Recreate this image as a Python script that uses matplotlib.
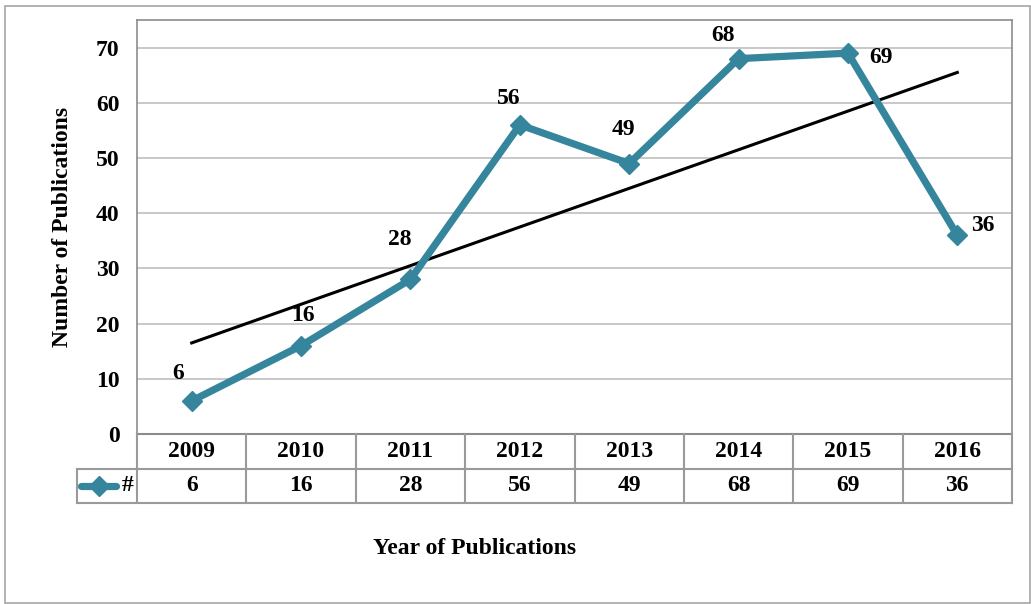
import matplotlib
matplotlib.use("Agg")
import matplotlib.pyplot as plt
import numpy as np
from matplotlib.patches import Rectangle

years = ["2009", "2010", "2011", "2012", "2013", "2014", "2015", "2016"]
counts = [6, 16, 28, 56, 49, 68, 69, 36]
series_name = "#"
y_ticks = [0, 10, 20, 30, 40, 50, 60, 70]

# label offsets in points (dx, dy)
label_offsets = [(-10, 20), (1, 22), (-8, 29), (-8, 19), (-4, 24.5), (-11, 17), (24, -3.5), (18, 7)]

plt.rcParams['font.family'] = ['Liberation Serif', 'DejaVu Serif']
plt.rcParams['font.weight'] = 'bold'

W, H = 1031, 604
fig = plt.figure(figsize=(W / 100, H / 100), dpi=100)

def fx(px):
    return px / W

def fy(py):
    return 1 - py / H

line_color = '#35869D'
grid_color = '#BFBFBF'
frame_color = '#8C8C8C'
fs = 17
lw_series = 5.2
msize = 10.5

# outer border
fig.add_artist(Rectangle((fx(5), fy(603)), fx(1030) - fx(5), fy(6) - fy(603),
                         transform=fig.transFigure, fill=False, edgecolor='#A6A6A6', lw=1.2))

L, R, T, B = 137, 1012, 20, 434
ax = fig.add_axes([fx(L), fy(B), fx(R) - fx(L), fy(T) - fy(B)])
x = np.arange(len(years))
ax.set_xlim(-0.5, len(years) - 0.5)
ax.set_ylim(0, 75)
ax.set_yticks(y_ticks)
ax.set_yticklabels([str(t) for t in y_ticks], fontsize=fs, fontweight='bold')
ax.tick_params(axis='y', length=0, pad=12.5)
ax.set_xticks([])
for yt in y_ticks[1:]:
    ax.axhline(yt, color=grid_color, lw=1.2, zorder=1)
for s in ax.spines.values():
    s.set_color(frame_color)
    s.set_linewidth(1.2)

# trend line (linear least squares)
k, b0 = np.polyfit(x, counts, 1)
ax.plot(x, k * x + b0, color='black', lw=2.2, zorder=3)

ax.plot(x, counts, color=line_color, lw=lw_series, marker='D', markersize=msize,
        markerfacecolor=line_color, markeredgecolor=line_color, zorder=4,
        solid_joinstyle='round')

for xi, yi, (dx, dy) in zip(x, counts, label_offsets):
    ax.annotate(str(yi), (xi, yi), xytext=(dx, dy), textcoords='offset points',
                ha='center', va='center', fontsize=fs, fontweight='bold', zorder=5)

ax.set_ylabel("Number of Publications", fontsize=fs, fontweight='bold')
ax.yaxis.set_label_coords((62 - L) / (R - L), 0.5)
ax.yaxis.label.set_va('center')

# data table
TB = 503
tax = fig.add_axes([fx(L), fy(TB), fx(R) - fx(L), fy(B) - fy(TB)])
tax.set_xlim(-0.5, len(years) - 0.5)
tax.set_ylim(0, 2)
tax.axis('off')
tcol = '#9A9A9A'
lx = -0.5 - (L - 77) / ((R - L) / len(years))
tax.plot([-0.5, len(years) - 0.5], [2, 2], color=frame_color, lw=1.5, clip_on=False)
tax.plot([lx, len(years) - 0.5], [1, 1], color=tcol, lw=1.5, clip_on=False)
tax.plot([lx, len(years) - 0.5], [0, 0], color=tcol, lw=1.5, clip_on=False)
for i in range(len(years) + 1):
    tax.plot([i - 0.5, i - 0.5], [0, 2], color=tcol, lw=1.5, clip_on=False)
tax.plot([lx, lx], [0, 1], color=tcol, lw=1.5, clip_on=False)
for i, (yr, c) in enumerate(zip(years, counts)):
    tax.text(i, 1.5, yr, ha='center', va='center', fontsize=fs, fontweight='bold')
    tax.text(i, 0.5, str(c), ha='center', va='center', fontsize=fs, fontweight='bold')
# legend key in table
mx0 = lx + 0.04
mx1 = -0.5 - 0.19
tax.plot([mx0, mx1], [0.5, 0.5], color=line_color, lw=lw_series, solid_capstyle='round', clip_on=False)
tax.plot([(mx0 + mx1) / 2], [0.5], marker='D', markersize=msize, color=line_color, clip_on=False)
tax.text(-0.5 - 0.03, 0.5, series_name, ha='right', va='center', fontsize=fs, fontweight='bold')

fig.text(fx(475), fy(548), "Year of Publications", ha='center', va='center',
         fontsize=fs, fontweight='bold')

fig.savefig("out.png", dpi=100)
